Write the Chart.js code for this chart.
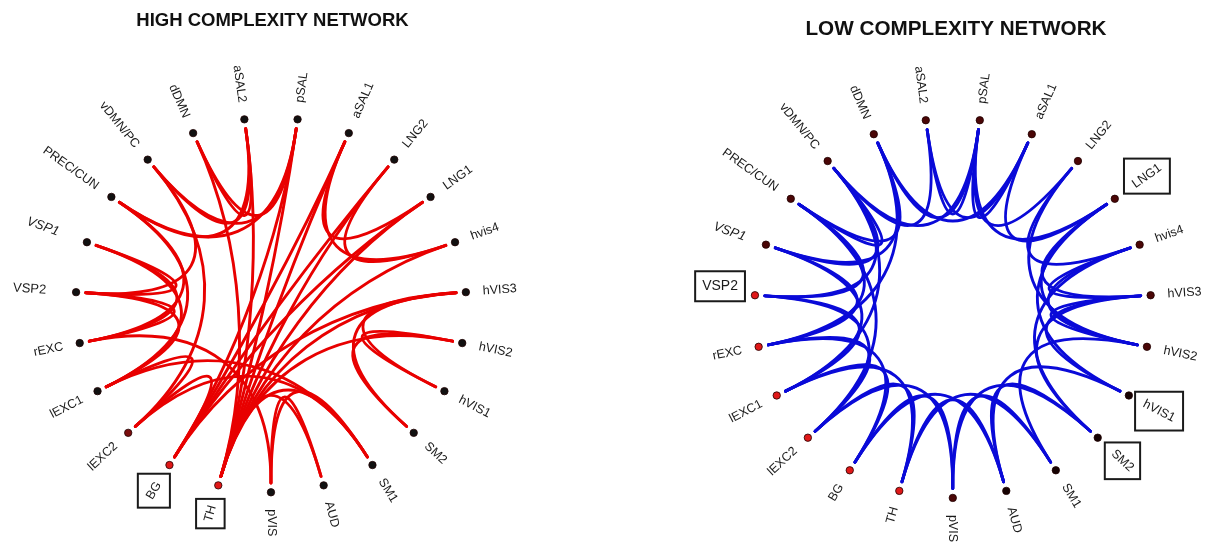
<!DOCTYPE html>
<html>
<head>
<meta charset="utf-8">
<script src="https://cdn.jsdelivr.net/npm/chart.js@4.4.1/dist/chart.umd.min.js"></script>
<style>
  html, body { margin: 0; padding: 0; background: #ffffff; }
  #wrap { position: relative; width: 1208px; height: 545px; overflow: hidden; }
  .panel { position: absolute; top: 0; width: 604px; height: 545px; }
</style>
</head>
<body>
<div id="wrap">
  <div class="panel" style="left:0"><canvas id="high" width="604" height="545"></canvas></div>
  <div class="panel" style="left:604px"><canvas id="low" width="604" height="545"></canvas></div>
</div>
<script>
// Brain networks, placed clockwise around the ring starting at the bottom.
const regions = ['pVIS', 'TH', 'BG', 'lEXC2', 'lEXC1', 'rEXC', 'VSP2', 'VSP1', 'PREC/CUN',
  'vDMN/PC', 'dDMN', 'aSAL2', 'pSAL', 'aSAL1', 'LNG2', 'LNG1', 'hvis4', 'hVIS3', 'hVIS2',
  'hVIS1', 'SM2', 'SM1', 'AUD'];

// Connections present in the high-complexity group.
const highEdges = [
  ['PREC/CUN', 'aSAL2'], ['PREC/CUN', 'pSAL'], ['vDMN/PC', 'aSAL2'], ['vDMN/PC', 'pSAL'],
  ['dDMN', 'pSAL'], ['dDMN', 'aSAL2'],
  ['dDMN', 'TH'], ['aSAL2', 'TH'], ['pSAL', 'TH'], ['pSAL', 'BG'],
  ['aSAL1', 'TH'], ['aSAL1', 'BG'], ['LNG2', 'TH'], ['LNG2', 'BG'], ['LNG1', 'TH'], ['LNG1', 'BG'],
  ['hvis4', 'TH'], ['hVIS3', 'TH'], ['hVIS3', 'BG'], ['hVIS2', 'TH'],
  ['aSAL1', 'hvis4'], ['LNG2', 'hvis4'], ['aSAL1', 'LNG1'],
  ['hVIS3', 'hVIS1'], ['hVIS3', 'SM2'], ['hVIS2', 'SM2'], ['hVIS2', 'hVIS1'],
  ['pVIS', 'AUD'], ['pVIS', 'SM1'], ['TH', 'AUD'], ['TH', 'SM1'],
  ['lEXC1', 'SM1'], ['lEXC2', 'SM1'], ['pVIS', 'rEXC'],
  ['VSP1', 'rEXC'], ['VSP1', 'lEXC1'], ['VSP2', 'rEXC'], ['VSP2', 'lEXC1'], ['VSP2', 'VSP1'],
  ['VSP2', 'vDMN/PC'], ['rEXC', 'PREC/CUN'], ['lEXC1', 'PREC/CUN'], ['lEXC2', 'vDMN/PC'],
  ['lEXC2', 'lEXC1'], ['lEXC2', 'BG']
];

// Connections present in the low-complexity group.
const lowEdges = [
  ['aSAL2', 'pSAL'], ['aSAL2', 'aSAL1'], ['pSAL', 'aSAL1'], ['dDMN', 'pSAL'], ['dDMN', 'aSAL1'],
  ['vDMN/PC', 'aSAL2'], ['vDMN/PC', 'pSAL'], ['pSAL', 'LNG2'], ['pSAL', 'LNG1'], ['aSAL1', 'LNG1'],
  ['dDMN', 'PREC/CUN'], ['vDMN/PC', 'VSP1'], ['dDMN', 'rEXC'], ['vDMN/PC', 'lEXC1'],
  ['PREC/CUN', 'lEXC2'],
  ['LNG2', 'hvis4'], ['LNG2', 'hVIS2'], ['LNG1', 'hVIS3'], ['LNG1', 'hVIS2'], ['LNG1', 'hVIS1'],
  ['hvis4', 'hVIS3'], ['hvis4', 'hVIS2'], ['hVIS3', 'hVIS2'], ['hVIS3', 'hVIS1'], ['hVIS3', 'SM2'],
  ['hvis4', 'SM2'],
  ['hVIS1', 'AUD'], ['SM2', 'AUD'], ['hVIS2', 'SM1'], ['SM1', 'pVIS'], ['SM1', 'TH'], ['AUD', 'TH'],
  ['AUD', 'BG'], ['pVIS', 'BG'], ['pVIS', 'lEXC2'], ['SM2', 'pVIS'],
  ['TH', 'lEXC1'], ['TH', 'lEXC2'], ['BG', 'lEXC1'], ['BG', 'rEXC'], ['lEXC2', 'VSP2'],
  ['lEXC2', 'rEXC'], ['lEXC1', 'VSP2'], ['lEXC1', 'VSP1'], ['rEXC', 'VSP1'], ['rEXC', 'PREC/CUN'],
  ['VSP2', 'PREC/CUN'], ['VSP2', 'vDMN/PC'], ['VSP1', 'dDMN'], ['PREC/CUN', 'vDMN/PC']
];

// Node marker colours, in ring order.
const highNodeColors = ['#111111', '#e01818', '#e01818', '#7a0d0d', '#111111', '#111111',
  '#111111', '#111111', '#111111', '#111111', '#111111', '#111111', '#111111', '#111111',
  '#111111', '#111111', '#111111', '#111111', '#111111', '#111111', '#111111', '#111111', '#111111'];
const lowNodeColors = ['#4a0606', '#e01818', '#e01818', '#e01818', '#e01818', '#e01818',
  '#e01818', '#4a0606', '#4a0606', '#4a0606', '#4a0606', '#4a0606', '#4a0606', '#4a0606',
  '#4a0606', '#4a0606', '#4a0606', '#4a0606', '#4a0606', '#160202', '#160202', '#160202', '#160202'];

// Labels framed with a rectangle.
const highBoxed = ['BG', 'TH'];
const lowBoxed = ['VSP2', 'LNG1', 'hVIS1', 'SM2'];

// ---- layout helpers ----
const STEP = 2 * Math.PI / regions.length;
const EDGE_R = 0.95;            // edges start just inside the node ring
const PULL = 0.37;              // cubic handles sit this far out along each node's spoke
const FONT = '"Liberation Sans", Arial, Helvetica, sans-serif';

function angleOf(i) { return -Math.PI / 2 - i * STEP; }

function ringPlugin(cfg) {
  return {
    id: 'ring',
    beforeDatasetsDraw(chart) {
      const { ctx, scales: { x, y } } = chart;
      const px = v => x.getPixelForValue(v), py = v => y.getPixelForValue(v);
      ctx.save();
      ctx.strokeStyle = cfg.edgeColor;
      ctx.lineWidth = 2.9;
      ctx.lineCap = 'round';
      cfg.edges.forEach(([a, b]) => {
        const pa = angleOf(regions.indexOf(a)), pb = angleOf(regions.indexOf(b));
        const ca = Math.cos(pa), sa = Math.sin(pa), cb = Math.cos(pb), sb = Math.sin(pb);
        ctx.beginPath();
        ctx.moveTo(px(EDGE_R * ca), py(EDGE_R * sa));
        ctx.bezierCurveTo(
          px(PULL * EDGE_R * ca), py(PULL * EDGE_R * sa),
          px(PULL * EDGE_R * cb), py(PULL * EDGE_R * sb),
          px(EDGE_R * cb), py(EDGE_R * sb));
        ctx.stroke();
      });
      ctx.restore();
    },
    afterDatasetsDraw(chart) {
      const { ctx, scales: { x, y } } = chart;
      ctx.save();
      // title
      ctx.fillStyle = '#111111';
      ctx.font = 'bold ' + cfg.titleSize + 'px ' + FONT;
      ctx.textAlign = 'center';
      ctx.textBaseline = 'middle';
      ctx.fillText(cfg.title, cfg.titleX, cfg.titleY);

      // node labels, written radially
      regions.forEach((name, i) => {
        const phi = angleOf(i);
        const c = Math.cos(phi), s = Math.sin(phi);
        const nx = x.getPixelForValue(c), ny = y.getPixelForValue(s);
        const st = Object.assign({ off: 17, size: 12.5, italic: false }, cfg.labelStyle[name] || {});
        ctx.font = (st.italic ? 'italic ' : '') + st.size + 'px ' + FONT;
        const w = ctx.measureText(name).width;
        let rot, align, ax, ay, cxm, cym;
        if (st.horizontal) {
          rot = 0; align = 'right';
          ax = nx - st.off; ay = ny + (st.lift || 0);
          cxm = ax - w / 2; cym = ay;
        } else {
          const right = c > -1e-9;
          rot = right ? -phi : Math.PI - phi;
          align = right ? 'left' : 'right';
          ax = nx + c * st.off; ay = ny - s * st.off;
          cxm = ax + c * w / 2; cym = ay - s * w / 2;
        }
        ctx.save();
        ctx.translate(ax, ay);
        ctx.rotate(rot);
        ctx.fillStyle = '#1a1a1a';
        ctx.textAlign = align;
        ctx.textBaseline = 'middle';
        ctx.fillText(name, 0, 0);
        ctx.restore();

        if (cfg.boxed.includes(name)) {
          const h = st.size;
          const hx = (w * Math.abs(Math.cos(rot)) + h * Math.abs(Math.sin(rot))) / 2 + (st.padX || 6);
          const hy = (w * Math.abs(Math.sin(rot)) + h * Math.abs(Math.cos(rot))) / 2 + (st.padY || 6);
          ctx.strokeStyle = '#1a1a1a';
          ctx.lineWidth = 2;
          ctx.strokeRect(cxm - hx, cym - hy, hx * 2, hy * 2);
        }
      });
      ctx.restore();
    }
  };
}

function makeRing(canvasId, cfg) {
  const W = 604, H = 545;
  const nodes = regions.map((name, i) => ({ x: Math.cos(angleOf(i)), y: Math.sin(angleOf(i)) }));
  return new Chart(document.getElementById(canvasId), {
    type: 'scatter',
    data: {
      datasets: [{
        data: nodes,
        pointRadius: 3.7,
        pointHoverRadius: 3.7,
        pointBackgroundColor: cfg.nodeColors,
        pointBorderColor: '#200000',
        pointBorderWidth: 0.8,
        clip: false
      }]
    },
    options: {
      responsive: false,
      animation: false,
      devicePixelRatio: 1,
      layout: { padding: 0 },
      events: [],
      scales: {
        x: { type: 'linear', display: false, min: -cfg.cx / cfg.rx, max: (W - cfg.cx) / cfg.rx },
        y: { type: 'linear', display: false, min: -(H - cfg.cy) / cfg.ry, max: cfg.cy / cfg.ry }
      },
      plugins: { legend: { display: false }, tooltip: { enabled: false }, title: { display: false } }
    },
    plugins: [ringPlugin(cfg)]
  });
}

makeRing('high', {
  cx: 270.5, cy: 305.5, rx: 198.3, ry: 190.5,
  title: 'HIGH COMPLEXITY NETWORK', titleX: 272.5, titleY: 21, titleSize: 18.5,
  edges: highEdges, edgeColor: '#e80000', nodeColors: highNodeColors, boxed: highBoxed,
  labelStyle: {
    'VSP1': { off: 30, italic: true, size: 13 },
    'VSP2': { off: 30, size: 13 },
    'BG': { off: 21, padX: 6, padY: 6 },
    'TH': { off: 21, padX: 6, padY: 5 }
  }
});

makeRing('low', {
  cx: 349.5, cy: 308.8, rx: 201.3, ry: 192.9,
  title: 'LOW COMPLEXITY NETWORK', titleX: 352, titleY: 29.5, titleSize: 20.7,
  edges: lowEdges, edgeColor: '#0a0ad8', nodeColors: lowNodeColors, boxed: lowBoxed,
  labelStyle: {
    'VSP1': { off: 22, italic: true, size: 13 },
    'VSP2': { horizontal: true, off: 17, lift: -9, size: 14, padX: 7, padY: 8 },
    'LNG1': { off: 23, padX: 6, padY: 3 },
    'hVIS1': { padX: 6, padY: 6 },
    'SM2': { off: 21, padX: 4, padY: 5 }
  }
});
</script>
</body>
</html>
